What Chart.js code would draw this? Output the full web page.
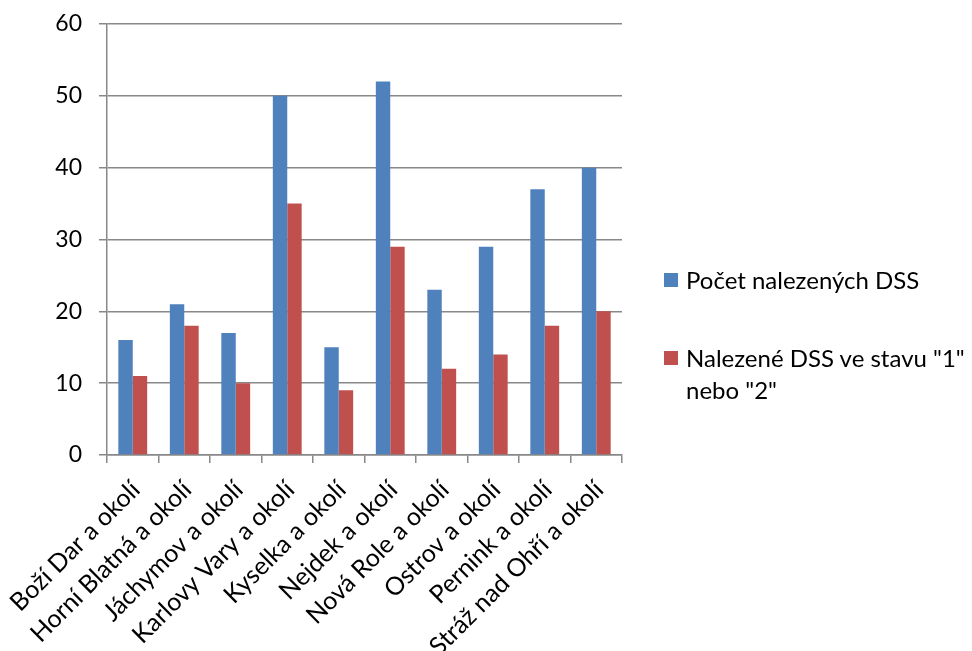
<!DOCTYPE html>
<html>
<head>
<meta charset="utf-8">
<script src="https://cdn.jsdelivr.net/npm/chart.js@4"></script>
<style>
  body { margin: 0; background: #fff; }
  #wrap { position: relative; width: 972px; height: 651px; }
  #legend { position: absolute; left: 664px; top: 264px; font-family: Lato, sans-serif; font-size: 24px; color: #000; }
  .item { position: relative; padding-left: 22px; line-height: 32px; }
  .box { position: absolute; left: 0; top: 9px; width: 14px; height: 14px; }
</style>
</head>
<body>
<div id="wrap">
  <canvas id="grafico" width="972" height="651"></canvas>
  <div id="legend"></div>
</div>
<script>
var kategorie = ['Boží Dar a okolí', 'Horní Blatná a okolí', 'Jáchymov a okolí', 'Karlovy Vary a okolí', 'Kyselka a okolí',
  'Nejdek a okolí', 'Nová Role a okolí', 'Ostrov a okolí', 'Pernink a okolí', 'Stráž nad Ohří a okolí'];
var pocetDSS = [16, 21, 17, 50, 15, 52, 23, 29, 37, 40];
var stav12 = [11, 18, 10, 35, 9, 29, 12, 14, 18, 20];
var nazvy = ['Počet nalezených DSS', 'Nalezené DSS ve stavu "1" nebo "2"'];
var barvy = ['#4F81BD', '#C0504D'];

var ctx = document.getElementById("grafico").getContext("2d");
var graf = new Chart(ctx, {
  type: 'bar',
  data: {
    labels: kategorie,
    datasets: [{
      label: nazvy[0],
      data: pocetDSS,
      backgroundColor: barvy[0]
    }, {
      label: nazvy[1],
      data: stav12,
      backgroundColor: barvy[1]
    }]
  },
  options: {
    responsive: false,
    animation: false,
    layout: { padding: { left: 0, right: 350, top: 24, bottom: 0 } },
    plugins: { legend: { display: false }, tooltip: { enabled: false } },
    datasets: { bar: { categoryPercentage: 0.56, barPercentage: 1.0 } },
    scales: {
      x: {
        grid: { drawOnChartArea: false, offset: true, color: '#888', tickLength: 8, lineWidth: 1.5 },
        border: { color: '#888', width: 1.5 },
        ticks: { maxRotation: 45, minRotation: 45, autoSkip: false, color: '#000', font: { family: 'Lato', size: 25 }, padding: 12, labelOffset: 3 },
        afterFit: function (s) { s.height = 196; s.paddingLeft = 0; s.paddingRight = 0; }
      },
      y: {
        min: 0, max: 60,
        grid: { color: '#888', tickLength: 8, lineWidth: 1.5 },
        border: { color: '#888', width: 1.5 },
        ticks: { stepSize: 10, color: '#000', font: { family: 'Lato', size: 23 }, padding: 17 },
        afterFit: function (s) { s.width = 107; s.paddingTop = 0; s.paddingBottom = 0; }
      }
    }
  }
});

var legenda = document.getElementById('legend');
legenda.innerHTML =
  '<div class="item"><span class="box" style="background:' + barvy[0] + '"></span>' + nazvy[0] + '</div>' +
  '<div class="item" style="margin-top:46px;width:300px"><span class="box" style="background:' + barvy[1] + '"></span>' + nazvy[1] + '</div>';
</script>
</body>
</html>
